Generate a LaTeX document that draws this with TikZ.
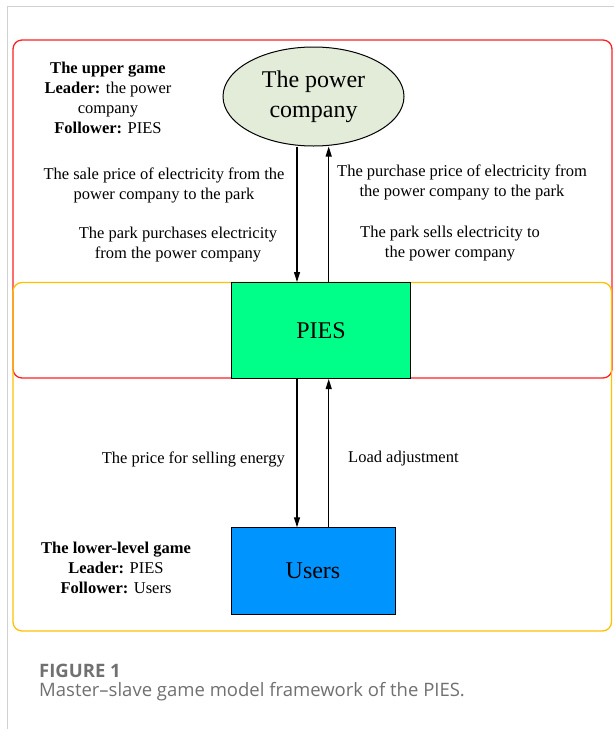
\documentclass[tikz,border=0pt]{standalone}
\usepackage{fontspec}
\setmainfont{Liberation Serif}
\newfontfamily\capfont{Open Sans}
\usetikzlibrary{arrows.meta,calc,positioning,shapes.geometric}
\definecolor{pcfill}{RGB}{226,236,216}
\definecolor{piesfill}{RGB}{0,255,136}
\definecolor{userfill}{RGB}{0,148,255}
\definecolor{gamered}{RGB}{255,32,32}
\definecolor{gameorange}{RGB}{255,192,0}
\definecolor{capgray}{RGB}{112,112,112}

\begin{document}
\begin{tikzpicture}[x=1pt,y=-1pt,font=\fontsize{16.5}{20}\selectfont,
    arr/.style={-{Triangle[length=10pt,width=6pt]},line width=1.1pt},
    bigtxt/.style={font=\fontsize{24}{30}\selectfont},
    lbl/.style={align=center,inner sep=0pt}]
    \useasboundingbox (0,0) rectangle (614,729);
    % page frame
    \draw[black!18,line width=1pt] (7,729) -- (7,6) -- (614,6);
    % the two game levels
    \draw[gamered,line width=1.3pt,rounded corners=9pt] (13,40) rectangle (612,378);
    \draw[gameorange,line width=1.3pt,rounded corners=9pt] (13,282.5) rectangle (611.5,631);
    % players
    \node[ellipse,draw,line width=1pt,fill=pcfill,minimum width=181,minimum height=99,inner sep=0pt,
      align=center,bigtxt] (pc) at (313.5,96.5) {The power\\company};
    \node[draw,line width=1pt,fill=piesfill,minimum width=179,minimum height=96,inner sep=0pt,bigtxt] (pies) at (321,330.5) {PIES};
    \node[draw,line width=1pt,fill=userfill,minimum width=164,minimum height=86.5,inner sep=0pt,bigtxt] (users) at (313,571) {Users};
    \coordinate (dnx) at (297,0);
    \coordinate (upx) at (328.7,0);
    \draw[arr] (pc.south -| dnx) -- (pies.north -| dnx);
    \draw[arr] (pies.north -| upx) -- (pc.south -| upx);
    \draw[arr] (pies.south -| dnx) -- (users.north -| dnx);
    \draw[arr] (users.north -| upx) -- (pies.south -| upx);
    % labels
    \node[lbl] (upgame) at (108,98) {\textbf{The upper game}\\\textbf{Leader:} the power\\company\\\textbf{Follower:} PIES};
    \node[lbl] (saleprice) at (164,185) {The sale price of electricity from the\\power company to the park};
    \node[lbl] (parkbuy) at (178,244.5) {The park purchases electricity\\from the power company};
    \node[lbl] (buyprice) at (462,182) {The purchase price of electricity from\\the power company to the park};
    \node[lbl] (parksell) at (450,243.5) {The park sells electricity to\\the power company};
    \node[lbl,anchor=east] (sellenergy) at (285,459) {The price for selling energy};
    \node[lbl,anchor=west] (loadadj) at (348,459) {Load adjustment};
    \node[lbl] (lowgame) at (116,568) {\textbf{The lower-level game}\\\textbf{Leader:} PIES\\\textbf{Follower:} Users};
    % caption
    \node[anchor=west,inner sep=0pt,text=capgray,font=\capfont\fontsize{18.5}{22}\selectfont\bfseries] (figno) at (39,671) {FIGURE 1};
    \node[anchor=west,inner sep=0pt,text=capgray,font=\capfont\fontsize{18.5}{22}\selectfont] (figcap) at (39,692) {Master–slave game model framework of the PIES.};
\end{tikzpicture}
\end{document}
